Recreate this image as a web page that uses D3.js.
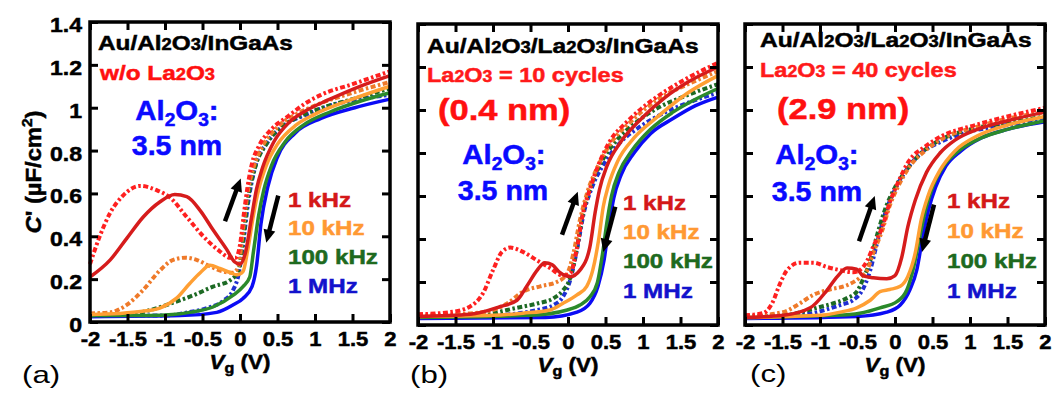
<!DOCTYPE html>
<html>
<head>
<meta charset="utf-8">
<script src="https://cdn.jsdelivr.net/npm/d3@7"></script>
<style>
  body { margin: 0; background: #fff; }
  svg { display: block; }
  text { font-family: "Liberation Sans", Arial, Helvetica, sans-serif; }
</style>
</head>
<body>
<div id="chart"></div>
<script>
// ---- data (Vg in V, C' in uF/cm2) ----
var freqLabels = ["1 kHz", "10 kHz", "100 kHz", "1 MHz"];
var xTicks = [-2, -1.5, -1, -0.5, 0, 0.5, 1, 1.5, 2];
var yTicks = [0, 0.2, 0.4, 0.6, 0.8, 1, 1.2, 1.4];

// panel (a): w/o La2O3
var a1kDash = [[-2,0.27],[-1.87,0.40],[-1.73,0.51],[-1.56,0.59],[-1.33,0.635],[-1.11,0.615],[-0.93,0.58],[-0.71,0.49],[-0.49,0.40],[-0.27,0.33],[-0.13,0.30],[-0.06,0.30],[0.0,0.36],[0.05,0.50],[0.1,0.63],[0.16,0.74],[0.25,0.82],[0.42,0.90],[0.64,0.96],[0.87,1.02],[1.08,1.06],[1.5,1.11],[2.0,1.17]];
var a1kSolid = [[-2,0.21],[-1.73,0.29],[-1.51,0.39],[-1.29,0.49],[-1.07,0.56],[-0.87,0.595],[-0.71,0.585],[-0.53,0.52],[-0.36,0.43],[-0.18,0.34],[-0.07,0.28],[0.0,0.27],[0.07,0.32],[0.15,0.48],[0.22,0.62],[0.3,0.72],[0.45,0.84],[0.65,0.93],[0.9,0.99],[1.2,1.04],[1.6,1.10],[2.0,1.15]];
var a10kDash = [[-2,0.04],[-1.73,0.045],[-1.51,0.08],[-1.29,0.15],[-1.07,0.24],[-0.89,0.29],[-0.73,0.30],[-0.58,0.29],[-0.4,0.26],[-0.22,0.235],[-0.09,0.23],[-0.02,0.26],[0.03,0.40],[0.1,0.60],[0.18,0.72],[0.3,0.82],[0.5,0.91],[0.75,0.97],[1.0,1.01],[1.5,1.07],[2.0,1.12]];
var a10kSolid = [[-2,0.035],[-1.6,0.04],[-1.3,0.05],[-1.07,0.065],[-0.85,0.11],[-0.67,0.18],[-0.53,0.23],[-0.4,0.265],[-0.27,0.25],[-0.13,0.23],[-0.04,0.22],[0.04,0.235],[0.1,0.33],[0.18,0.50],[0.25,0.62],[0.35,0.73],[0.5,0.83],[0.75,0.92],[1.0,0.97],[1.5,1.04],[2.0,1.10]];
var a100kDash = [[-2,0.03],[-1.6,0.035],[-1.33,0.045],[-0.89,0.09],[-0.62,0.125],[-0.36,0.165],[-0.13,0.195],[-0.02,0.24],[0.03,0.35],[0.1,0.56],[0.2,0.72],[0.35,0.83],[0.55,0.91],[0.8,0.96],[1.1,1.00],[1.5,1.04],[2.0,1.09]];
var a100kSolid = [[-2,0.03],[-1.2,0.03],[-0.9,0.035],[-0.67,0.045],[-0.36,0.07],[-0.09,0.125],[0.04,0.165],[0.13,0.21],[0.18,0.33],[0.25,0.50],[0.32,0.62],[0.42,0.73],[0.6,0.84],[0.85,0.92],[1.2,0.98],[1.6,1.03],[2.0,1.07]];
var a1MDash = [[-2,0.03],[-1.0,0.03],[-0.69,0.045],[-0.44,0.065],[-0.22,0.10],[-0.09,0.15],[-0.02,0.22],[0.03,0.33],[0.11,0.56],[0.2,0.72],[0.37,0.84],[0.6,0.92],[0.9,0.97],[1.2,1.01],[1.6,1.04],[2.0,1.06]];
var a1MSolid = [[-2,0.025],[-0.8,0.03],[-0.31,0.045],[-0.09,0.08],[0.04,0.11],[0.16,0.165],[0.22,0.26],[0.28,0.46],[0.37,0.63],[0.5,0.77],[0.73,0.88],[1.08,0.95],[1.53,1.00],[2.0,1.04]];

// panel (b): La2O3 = 10 cycles
var b1kDash = [[-2,0.05],[-1.57,0.06],[-1.31,0.085],[-1.13,0.15],[-1.0,0.255],[-0.88,0.34],[-0.77,0.36],[-0.6,0.34],[-0.41,0.30],[-0.24,0.265],[-0.07,0.23],[0.03,0.24],[0.12,0.36],[0.2,0.52],[0.29,0.63],[0.4,0.74],[0.55,0.85],[0.8,0.95],[1.1,1.04],[1.5,1.13],[2.0,1.22]];
var b1kSolid = [[-2,0.04],[-1.3,0.05],[-0.91,0.085],[-0.68,0.115],[-0.55,0.18],[-0.41,0.255],[-0.31,0.29],[-0.21,0.28],[-0.11,0.245],[0.03,0.225],[0.16,0.255],[0.29,0.36],[0.36,0.52],[0.42,0.63],[0.52,0.74],[0.7,0.85],[0.95,0.95],[1.3,1.06],[1.6,1.13],[2.0,1.20]];
var b10kDash = [[-2,0.045],[-1.5,0.05],[-1.13,0.06],[-0.81,0.10],[-0.6,0.155],[-0.37,0.18],[-0.15,0.20],[-0.01,0.24],[0.07,0.33],[0.16,0.49],[0.26,0.62],[0.4,0.74],[0.6,0.86],[0.85,0.95],[1.2,1.05],[1.6,1.12],[2.0,1.18]];
var b10kSolid = [[-2,0.04],[-1.0,0.045],[-0.6,0.055],[-0.24,0.07],[-0.07,0.10],[0.12,0.14],[0.25,0.18],[0.33,0.255],[0.41,0.40],[0.47,0.55],[0.54,0.65],[0.66,0.76],[0.88,0.87],[1.2,0.97],[1.6,1.08],[2.0,1.16]];
var b100kDash = [[-2,0.04],[-1.13,0.05],[-0.68,0.08],[-0.41,0.10],[-0.19,0.125],[-0.07,0.16],[0.03,0.22],[0.12,0.36],[0.2,0.52],[0.3,0.64],[0.45,0.76],[0.65,0.86],[0.9,0.94],[1.2,1.01],[1.6,1.07],[2.0,1.12]];
var b100kSolid = [[-2,0.035],[-0.5,0.045],[-0.01,0.07],[0.16,0.093],[0.29,0.13],[0.39,0.195],[0.46,0.33],[0.52,0.48],[0.58,0.60],[0.68,0.71],[0.85,0.81],[1.1,0.91],[1.4,0.99],[1.7,1.05],[2.0,1.10]];
var b1MDash = [[-2,0.04],[-1.0,0.045],[-0.41,0.07],[-0.19,0.093],[-0.07,0.13],[0.03,0.21],[0.12,0.35],[0.21,0.52],[0.32,0.64],[0.48,0.75],[0.7,0.85],[0.95,0.92],[1.3,0.99],[1.65,1.04],[2.0,1.08]];
var b1MSolid = [[-2,0.03],[-0.3,0.035],[0.12,0.06],[0.29,0.10],[0.4,0.18],[0.48,0.30],[0.55,0.47],[0.61,0.59],[0.71,0.70],[0.88,0.80],[1.1,0.89],[1.4,0.96],[1.7,1.02],[2.0,1.06]];

// panel (c): La2O3 = 40 cycles
var c1kDash = [[-2,0.045],[-1.76,0.055],[-1.64,0.10],[-1.53,0.195],[-1.44,0.255],[-1.27,0.29],[-1.09,0.29],[-0.91,0.27],[-0.73,0.255],[-0.56,0.245],[-0.47,0.255],[-0.37,0.30],[-0.29,0.365],[-0.17,0.455],[-0.07,0.57],[0.05,0.67],[0.18,0.76],[0.4,0.83],[0.63,0.88],[1.07,0.93],[1.5,0.97],[2.0,1.01]];
var c1kSolid = [[-2,0.035],[-1.49,0.045],[-1.13,0.08],[-0.91,0.16],[-0.77,0.225],[-0.64,0.265],[-0.51,0.26],[-0.43,0.23],[-0.29,0.22],[-0.11,0.215],[0.0,0.23],[0.09,0.315],[0.17,0.455],[0.27,0.58],[0.42,0.71],[0.6,0.80],[0.8,0.86],[1.1,0.91],[1.5,0.95],[2.0,0.99]];
var c10kDash = [[-2,0.04],[-1.49,0.06],[-1.27,0.10],[-1.09,0.14],[-0.87,0.165],[-0.64,0.185],[-0.47,0.22],[-0.37,0.255],[-0.29,0.335],[-0.17,0.44],[-0.07,0.555],[0.05,0.65],[0.2,0.74],[0.4,0.81],[0.65,0.87],[1.07,0.92],[1.5,0.96],[2.0,0.99]];
var c10kSolid = [[-2,0.035],[-1.0,0.045],[-0.73,0.06],[-0.51,0.08],[-0.33,0.115],[-0.2,0.155],[-0.07,0.165],[0.07,0.18],[0.17,0.225],[0.27,0.335],[0.35,0.49],[0.44,0.60],[0.6,0.72],[0.8,0.81],[1.1,0.88],[1.5,0.93],[2.0,0.97]];
var c100kDash = [[-2,0.04],[-1.49,0.045],[-1.04,0.08],[-0.83,0.10],[-0.64,0.125],[-0.51,0.155],[-0.43,0.21],[-0.33,0.30],[-0.23,0.43],[-0.12,0.55],[0.0,0.64],[0.15,0.72],[0.35,0.80],[0.6,0.86],[1.0,0.91],[1.5,0.94],[2.0,0.97]];
var c100kSolid = [[-2,0.035],[-0.8,0.045],[-0.47,0.055],[-0.2,0.08],[0.03,0.11],[0.16,0.165],[0.24,0.255],[0.33,0.41],[0.41,0.54],[0.5,0.64],[0.65,0.74],[0.85,0.81],[1.15,0.87],[1.5,0.91],[2.0,0.95]];
var c1MDash = [[-2,0.04],[-1.3,0.045],[-1.04,0.06],[-0.73,0.093],[-0.56,0.115],[-0.43,0.165],[-0.33,0.255],[-0.24,0.38],[-0.13,0.52],[0.0,0.63],[0.15,0.72],[0.35,0.80],[0.6,0.85],[1.0,0.90],[1.5,0.93],[2.0,0.96]];
var c1MSolid = [[-2,0.03],[-0.5,0.04],[-0.11,0.06],[0.07,0.093],[0.2,0.165],[0.29,0.255],[0.37,0.41],[0.45,0.54],[0.54,0.64],[0.68,0.74],[0.88,0.81],[1.15,0.87],[1.5,0.91],[2.0,0.945]];

// sweep arrows [V0, C0, V1, C1] (tail -> head)
var aArrows = [[-0.2,0.47,0.01,0.67],[0.51,0.59,0.35,0.37]];
var bArrows = [[-0.08,0.42,0.13,0.62],[0.63,0.55,0.47,0.34]];
var cArrows = [[-0.48,0.39,-0.27,0.60],[0.52,0.56,0.36,0.34]];

// ---- styles ----
var solidColors = ["#d61c1c", "#ff9f33", "#2b8a2b", "#0b0bf5"];
var dashColors = ["#ff2020", "#ef7a2a", "#1d6a24", "#1f2fd2"];
var legendColors = ["#d41818", "#ff9933", "#1e6a1e", "#1212cc"];

var svgWidth = 1056, svgHeight = 396;
var svg = d3.select("#chart").append("svg")
  .attr("width", svgWidth)
  .attr("height", svgHeight);

var panels = [
  { x0: 90, x1: 390, yTop: 22, yBot: 322, yLabels: true,
    dash: [a1kDash, a10kDash, a100kDash, a1MDash], solid: [a1kSolid, a10kSolid, a100kSolid, a1MSolid],
    arrows: aArrows, legX: 288, legY: [207, 235, 264, 293], tag: "(a)", tagX: 22, tagY: 383 },
  { x0: 418, x1: 718, yTop: 24, yBot: 325, yLabels: false,
    dash: [b1kDash, b10kDash, b100kDash, b1MDash], solid: [b1kSolid, b10kSolid, b100kSolid, b1MSolid],
    arrows: bArrows, legX: 623, legY: [210, 239, 268, 298], tag: "(b)", tagX: 410, tagY: 383 },
  { x0: 745, x1: 1045, yTop: 24, yBot: 325, yLabels: false,
    dash: [c1kDash, c10kDash, c100kDash, c1MDash], solid: [c1kSolid, c10kSolid, c100kSolid, c1MSolid],
    arrows: cArrows, legX: 947, legY: [208, 238, 268, 298], tag: "(c)", tagX: 750, tagY: 382 }
];

// text with small / shifted pieces, stretched horizontally by sx
function richText(parent, x, y, parts, o) {
  var fill = o.fill || "#000";
  var t = parent.append("text")
    .attr("transform", "translate(" + x + "," + y + ")" + (o.rotate ? " rotate(" + o.rotate + ")" : "") + " scale(" + (o.sx || 1) + ",1)")
    .attr("font-size", o.size)
    .attr("font-weight", o.weight || "bold")
    .attr("fill", fill)
    .attr("text-anchor", o.anchor || "start");
  if ((o.weight || "bold") === "bold") t.attr("stroke", fill).attr("stroke-width", 0.5);
  var cur = 0;
  parts.forEach(function(p) {
    var s = t.append("tspan").text(p.t);
    if (p.k) s.attr("font-size", o.size * p.k);
    var shift = p.shift || 0;
    if (shift !== cur) { s.attr("dy", shift - cur); cur = shift; }
    if (p.it) s.attr("font-style", "italic");
  });
  return t;
}

var line = d3.line().curve(d3.curveMonotoneX);

panels.forEach(function(p) {
  var x = d3.scaleLinear().domain([-2, 2]).range([p.x0, p.x1]);
  var y = d3.scaleLinear().domain([0, 1.4]).range([p.yBot, p.yTop]);
  line.x(function(d) { return x(d[0]); }).y(function(d) { return y(d[1]); });

  var g = svg.append("g");

  // curves: 1 MHz first so 1 kHz ends on top
  for (var i = 3; i >= 0; i--) {
    g.append("path")
      .datum(p.dash[i])
      .attr("d", line)
      .attr("fill", "none")
      .attr("stroke", dashColors[i])
      .attr("stroke-width", 4)
      .attr("stroke-dasharray", "5,2.5,2.5,2.5");
    g.append("path")
      .datum(p.solid[i])
      .attr("d", line)
      .attr("fill", "none")
      .attr("stroke", solidColors[i])
      .attr("stroke-width", 3.5);
  }

  // frame
  g.append("rect")
    .attr("x", p.x0).attr("y", p.yTop)
    .attr("width", p.x1 - p.x0).attr("height", p.yBot - p.yTop)
    .attr("fill", "none").attr("stroke", "#000").attr("stroke-width", 3.5);

  // inward ticks on all four sides
  var fmt = function(d) { return String(d); };
  var bottom = g.append("g").attr("transform", "translate(0," + p.yBot + ")")
    .call(d3.axisBottom(x).tickValues(xTicks).tickSize(-8).tickFormat(fmt));
  bottom.selectAll("text")
    .attr("y", 0).attr("dy", null)
    .attr("transform", "translate(0,24) scale(1.05,1)");
  g.append("g").attr("transform", "translate(0," + p.yTop + ")")
    .call(d3.axisTop(x).tickValues(xTicks).tickSize(-8).tickFormat(""));
  var left = g.append("g").attr("transform", "translate(" + p.x0 + ",0)")
    .call(d3.axisLeft(y).tickValues(yTicks).tickSize(-8).tickFormat(p.yLabels ? fmt : ""));
  left.selectAll("text")
    .attr("x", 0).attr("dy", "0.45em")
    .attr("transform", "translate(-8,0) scale(1.1,1)");
  g.append("g").attr("transform", "translate(" + p.x1 + ",0)")
    .call(d3.axisRight(y).tickValues(yTicks).tickSize(-8).tickFormat(""));

  g.selectAll(".domain").remove();
  g.selectAll(".tick line").attr("stroke", "#000").attr("stroke-width", 3);
  g.selectAll(".tick text")
    .attr("fill", "#000")
    .attr("stroke", "#000")
    .attr("stroke-width", 0.5)
    .attr("font-size", 21)
    .attr("font-weight", "bold")
    .attr("font-family", "'Liberation Sans', Arial, sans-serif");

  // x axis title
  richText(g, x(0), p.yBot + 47, [{ t: "V", it: true }, { t: "g", k: 0.72, shift: 4 }, { t: " (V)" }],
    { size: 20, sx: 1.12, anchor: "middle" });

  // sweep arrows
  p.arrows.forEach(function(a) {
    var x0 = x(a[0]), y0 = y(a[1]), x1 = x(a[2]), y1 = y(a[3]);
    var dx = x1 - x0, dy = y1 - y0, len = Math.sqrt(dx * dx + dy * dy);
    var ux = dx / len, uy = dy / len, hl = 13, hw = 6;
    var bx = x1 - ux * hl, by = y1 - uy * hl;
    g.append("line")
      .attr("x1", x0).attr("y1", y0).attr("x2", bx + ux * 2).attr("y2", by + uy * 2)
      .attr("stroke", "#000").attr("stroke-width", 4.5);
    g.append("path")
      .attr("d", "M" + x1 + "," + y1 + "L" + (bx - uy * hw) + "," + (by + ux * hw) +
        "L" + (bx + uy * hw) + "," + (by - ux * hw) + "Z")
      .attr("fill", "#000");
  });

  // legend
  freqLabels.forEach(function(f, i) {
    richText(g, p.legX, p.legY[i], [{ t: f }], { size: 21, sx: 1.15, fill: legendColors[i] });
  });

  // panel tag
  richText(svg, p.tagX, p.tagY, [{ t: p.tag }], { size: 24, sx: 1.3, weight: "normal" });
});

// y axis title
richText(svg, 41, 172, [{ t: "C", it: true }, { t: "' (\u00b5F/cm" }, { t: "2", k: 0.65, shift: -9 }, { t: ")" }],
  { size: 22, sx: 1.08, anchor: "middle", rotate: -90 });

// annotations
var al2o3 = [{ t: "Al" }, { t: "2", k: 0.65, shift: 6 }, { t: "O" }, { t: "3", k: 0.65, shift: 6 }, { t: ":" }];
var small = 0.75;
// (a)
richText(svg, 98, 50, [{ t: "Au/Al" }, { t: "2", k: small }, { t: "O" }, { t: "3", k: small }, { t: "/InGaAs" }], { size: 21, sx: 1.16 });
richText(svg, 100, 80, [{ t: "w/o La" }, { t: "2", k: small }, { t: "O" }, { t: "3", k: small }], { size: 21, sx: 1.16, fill: "#ff1010" });
richText(svg, 177, 120, al2o3, { size: 28, sx: 1.05, anchor: "middle", fill: "#0a0aff" });
richText(svg, 177, 155, [{ t: "3.5 nm" }], { size: 28, sx: 1.02, anchor: "middle", fill: "#0a0aff" });
// (b)
richText(svg, 427, 53, [{ t: "Au/Al" }, { t: "2", k: small }, { t: "O" }, { t: "3", k: small }, { t: "/La" }, { t: "2", k: small }, { t: "O" }, { t: "3", k: small }, { t: "/InGaAs" }], { size: 21, sx: 1.17 });
richText(svg, 427, 82, [{ t: "La" }, { t: "2", k: small }, { t: "O" }, { t: "3", k: small }, { t: " = 10 cycles" }], { size: 21, sx: 1.12, fill: "#ff1a1a" });
richText(svg, 438, 120, [{ t: "(0.4 nm)" }], { size: 30, sx: 1.15, fill: "#ff1010" });
richText(svg, 504, 164, al2o3, { size: 28, sx: 1.05, anchor: "middle", fill: "#0a0aff" });
richText(svg, 503, 200, [{ t: "3.5 nm" }], { size: 28, sx: 1.02, anchor: "middle", fill: "#0a0aff" });
// (c)
richText(svg, 760, 47, [{ t: "Au/Al" }, { t: "2", k: small }, { t: "O" }, { t: "3", k: small }, { t: "/La" }, { t: "2", k: small }, { t: "O" }, { t: "3", k: small }, { t: "/InGaAs" }], { size: 21, sx: 1.17 });
richText(svg, 760, 77, [{ t: "La" }, { t: "2", k: small }, { t: "O" }, { t: "3", k: small }, { t: " = 40 cycles" }], { size: 21, sx: 1.12, fill: "#ff1a1a" });
richText(svg, 777, 119, [{ t: "(2.9 nm)" }], { size: 30, sx: 1.15, fill: "#ff1010" });
richText(svg, 817, 164, al2o3, { size: 28, sx: 1.05, anchor: "middle", fill: "#0a0aff" });
richText(svg, 817, 201, [{ t: "3.5 nm" }], { size: 28, sx: 1.02, anchor: "middle", fill: "#0a0aff" });
</script>
</body>
</html>
